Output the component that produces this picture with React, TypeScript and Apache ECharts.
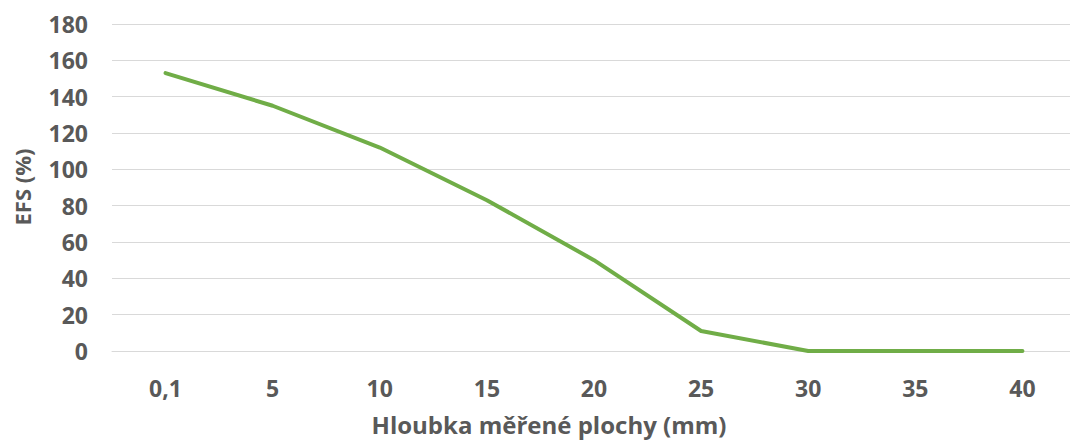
import React, { useEffect, useRef } from "react";
import * as echarts from "echarts";

const categories = ["0,1", "5", "10", "15", "20", "25", "30", "35", "40"];
const efsValues = [153, 135, 112, 83, 50, 11, 0, 0, 0];
const yTicks = { min: 0, max: 180, interval: 20 };
const xTitle = "Hloubka měřené plochy (mm)";
const yTitle = "EFS (%)";

export default function App() {
  const ref = useRef<HTMLDivElement>(null);
  useEffect(() => {
    const chart = echarts.init(ref.current!, null, { renderer: "svg" });
    const font = "'Open Sans', 'Noto Sans', sans-serif";
    chart.setOption({
      animation: false,
      grid: { left: 112, width: 964, top: 24, height: 327, containLabel: false },
      xAxis: {
        type: "category",
        data: categories,
        boundaryGap: true,
        axisLine: { show: true, lineStyle: { color: "#D9D9D9", width: 1 } },
        axisTick: { show: false },
        axisLabel: { color: "#595959", fontSize: 23, fontWeight: "bold", fontFamily: font, margin: 25 },
      },
      yAxis: {
        type: "value",
        min: yTicks.min,
        max: yTicks.max,
        interval: yTicks.interval,
        axisLine: { show: false },
        axisTick: { show: false },
        splitLine: { lineStyle: { color: "#D9D9D9", width: 1 } },
        axisLabel: { color: "#595959", fontSize: 23, fontWeight: "bold", fontFamily: font, margin: 24 },
      },
      graphic: [
        {
          type: "text",
          x: 549,
          y: 424,
          style: {
            text: xTitle,
            fill: "#595959",
            font: `bold 24px ${font}`,
            textAlign: "center",
            textVerticalAlign: "middle",
          },
        },
        {
          type: "text",
          x: 22,
          y: 187,
          rotation: Math.PI / 2,
          style: {
            text: yTitle,
            fill: "#595959",
            font: `bold 22px ${font}`,
            textAlign: "center",
            textVerticalAlign: "middle",
          },
        },
      ],
      series: [
        {
          type: "line",
          data: efsValues,
          symbol: "none",
          lineStyle: { color: "#70AD47", width: 4, cap: "round", join: "round" },
        },
      ],
    });
    return () => chart.dispose();
  }, []);
  return (
    <div style={{ position: "absolute", left: 0, top: 0, width: 1070, height: 444, overflow: "hidden" }}>
      <div ref={ref} style={{ width: 1090, height: 444 }} />
    </div>
  );
}
